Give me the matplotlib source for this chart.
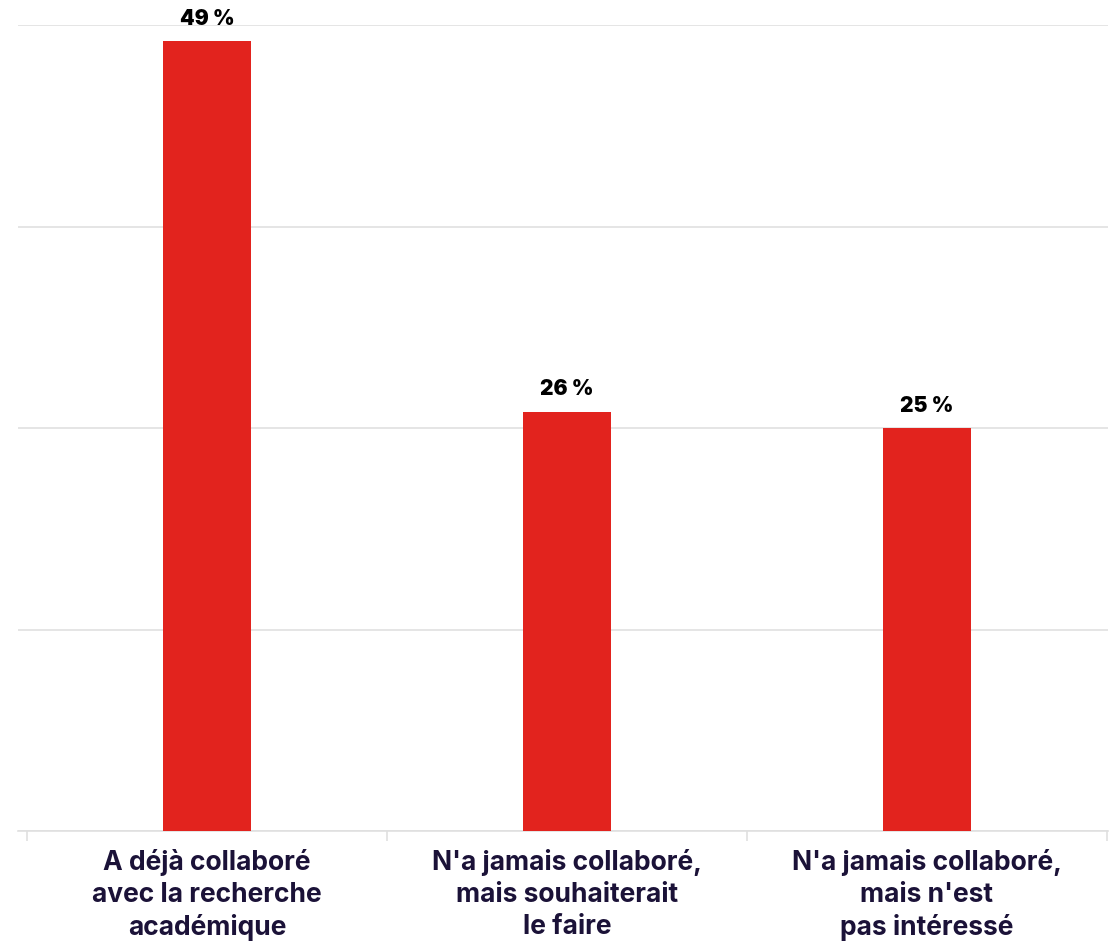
import matplotlib.pyplot as plt

categories = ["A déjà collaboré\navec la recherche\nacadémique",
              "N'a jamais collaboré,\nmais souhaiterait\nle faire",
              "N'a jamais collaboré,\nmais n'est\npas intéressé"]
values = [49, 26, 25]
value_labels = ["49 %", "26 %", "25 %"]

bar_color = "#e2231e"
text_color = "#1b1238"
grid_color = "#e0e0e0"

W, H = 1119, 944
fig = plt.figure(figsize=(W / 100, H / 100), dpi=100)
# axes from x=18 to 1108 px, y=25 to 831 px
ax = fig.add_axes([18 / W, (H - 831) / H, 1090 / W, (831 - 25) / H])

x = range(len(categories))
ax.bar(x, values, width=0.244, color=bar_color, zorder=3)

for xi, v, lab in zip(x, values, value_labels):
    ax.annotate(lab, (xi, v), xytext=(0, 9), textcoords="offset points",
                ha="center", va="bottom", fontsize=15, fontweight="black",
                family="Inter", color="black", zorder=4)

ax.set_xlim(-0.525, 2.503)
ax.set_ylim(0, 50)
ax.set_yticks([0, 12.5, 25, 37.5, 50])
ax.yaxis.grid(True, color=grid_color, linewidth=1.2, zorder=0)
ax.tick_params(axis="y", left=False, labelleft=False)

ax.set_xticks(list(x))
ax.set_xticklabels(categories, fontsize=19, fontweight="bold", family="Inter",
                   color=text_color, linespacing=1.3)
ax.tick_params(axis="x", length=0, pad=13)
ax.set_xticks([-0.5, 0.5, 1.5, 2.5], minor=True)
ax.tick_params(axis="x", which="minor", length=7, color=grid_color, width=1.2)

for s in ["top", "right", "left"]:
    ax.spines[s].set_visible(False)
ax.spines["bottom"].set_color(grid_color)
ax.spines["bottom"].set_linewidth(1.2)

fig.savefig("out.png", dpi=100)
